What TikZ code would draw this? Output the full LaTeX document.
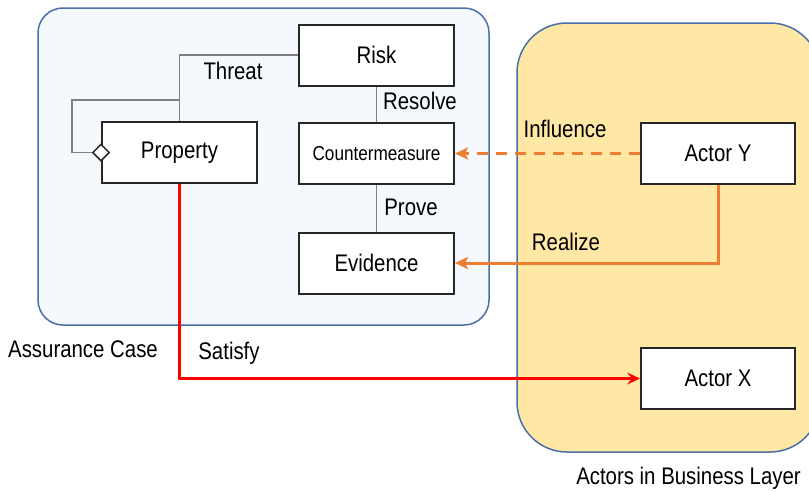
\documentclass[tikz,border=0pt]{standalone}
\usepackage{fontspec}
\setmainfont{Liberation Sans}[FakeStretch=0.85]
\usetikzlibrary{arrows.meta,shapes.geometric}

\definecolor{acfill}{HTML}{F5F9FD}
\definecolor{acline}{HTML}{4A6EA8}
\definecolor{blfill}{HTML}{FFE8A6}
\definecolor{orangeln}{HTML}{ED7D31}
\definecolor{boxline}{HTML}{262626}
\definecolor{greyln}{HTML}{808080}

\tikzset{
  elem/.style={draw=boxline, line width=2pt, fill=white, inner sep=0pt,
    minimum width=155pt, minimum height=61pt,
    font=\fontsize{24}{28}\selectfont},
  lbl/.style={inner sep=0pt, font=\fontsize{24}{28}\selectfont},
  assoc/.style={draw=greyln, line width=1.5pt},
  orangearrow/.style={draw=orangeln, line width=3pt,
    -{Stealth[length=13pt,width=12pt,inset=3pt]}},
  redarrow/.style={draw=red, line width=2.7pt,
    -{Stealth[length=13pt,width=12pt,inset=5pt]}},
  container/.style={line width=1.5pt, draw=acline},
}

\begin{document}
\begin{tikzpicture}[x=1pt, y=-1pt]
  \useasboundingbox (0,0) rectangle (809,491);

  % layer containers
  \draw[container, fill=acfill, rounded corners=25pt] (38,8) rectangle (489,325);
  \draw[container, fill=blfill, rounded corners=50pt] (517,23) rectangle (820,452);

  % assurance case elements
  \node[elem] (risk) at (376.5,55) {Risk};
  \node[elem, font=\fontsize{20.2}{24}\selectfont] (cm) at (376.5,153.5) {Countermeasure};
  \node[elem] (evid) at (376.5,263) {Evidence};
  \node[elem] (prop) at (179.5,152.5) {Property};

  % actors
  \node[elem, minimum width=154pt] (ay) at (718,153.5) {Actor Y};
  \node[elem, minimum width=154pt] (ax) at (718,378.5) {Actor X};

  % aggregation diamond on Property
  \node[diamond, draw=boxline, line width=1.5pt, fill=white, inner sep=0pt,
        minimum width=17pt, minimum height=17pt] (dia) at (prop.west) {};

  % associations inside the assurance case
  \draw[assoc] (risk.west) -| (prop.north);
  \coordinate (loopA) at (180,100);
  \coordinate (loopB) at (72,100);
  \coordinate (loopC) at (72,152.5);
  \draw[assoc] (loopA) -- (loopB) -- (loopC) -- (dia.west);
  \draw[assoc] (risk.south) -- (cm.north);
  \draw[assoc] (cm.south) -- (evid.north);

  % relations to business actors
  \draw[orangearrow, dash pattern=on 11pt off 8pt] (ay.west) -- (cm.east);
  \draw[orangearrow] (ay.south) |- (evid.east);
  \draw[redarrow] (prop.south) |- (ax.west);

  % labels
  \node[lbl] (tThreat) at (233,71) {Threat};
  \node[lbl] (tResolve) at (420,101) {Resolve};
  \node[lbl] (tProve) at (411,207) {Prove};
  \node[lbl] (tInfl) at (565,129) {Influence};
  \node[lbl] (tReal) at (566,242) {Realize};
  \node[lbl] (tSat) at (229,353) {Satisfy};
  \node[lbl] (tAC) at (83,349) {Assurance Case};
  \node[lbl] (tBL) at (688.5,478) {Actors in Business Layer};
\end{tikzpicture}
\end{document}
